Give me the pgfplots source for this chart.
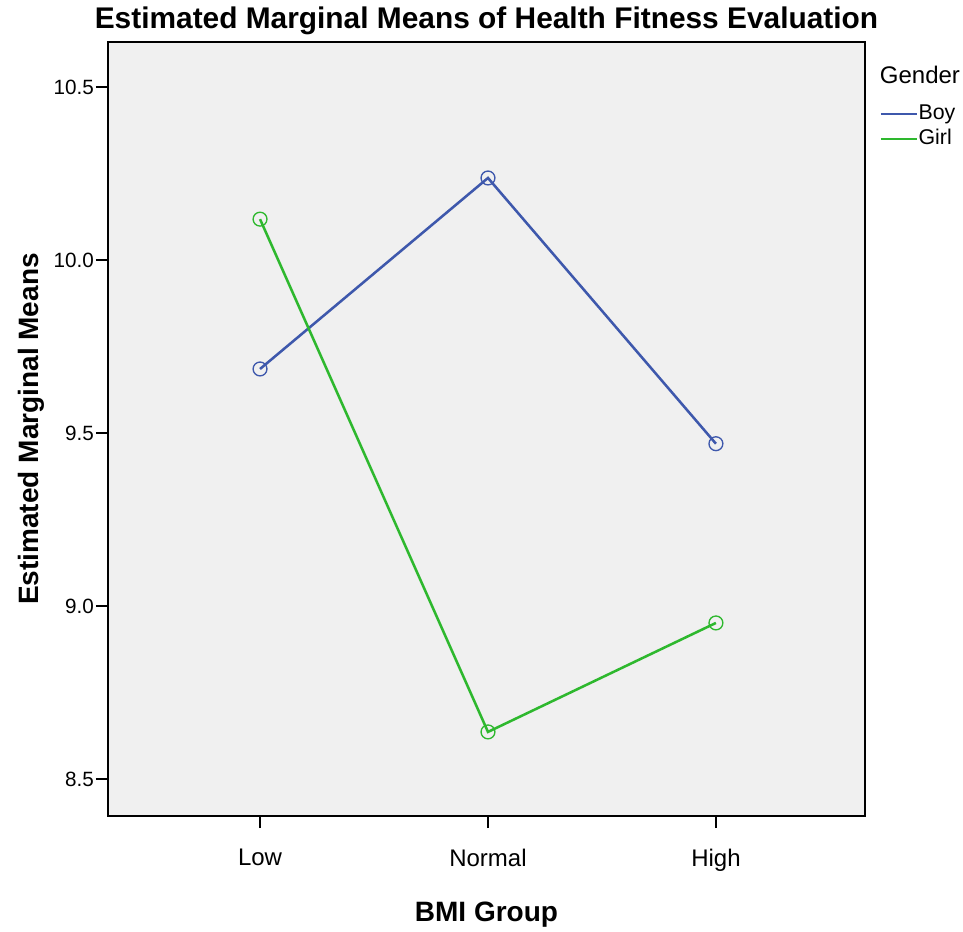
\documentclass[border=0pt]{standalone}
\usepackage{pgfplots}
\pgfplotsset{compat=1.18}
\usepackage{fontspec}
\setmainfont{Liberation Sans}
\definecolor{boy}{RGB}{62,88,172}
\definecolor{girl}{RGB}{46,184,46}
\definecolor{bg}{RGB}{240,240,240}
\begin{document}
\begin{tikzpicture}
\begin{axis}[
  name=ax,
  at={(0,0)}, anchor=south west,
  scale only axis,
  width=567.75pt, height=580.5pt,
  xmin=-0.667, xmax=2.654,
  ymin=8.393, ymax=10.630,
  xtick={0,1,2}, xticklabels={Low,Normal,High},
  ytick={8.5,9.0,9.5,10.0,10.5},
  /pgf/number format/assume math mode=true,
  tick align=outside,
  xtick pos=bottom, ytick pos=left,
  major tick length=9pt,
  tick style={black, line width=1pt},
  axis line style={black, line width=1pt},
  axis background/.style={fill=bg},
  yticklabel style={font=\fontsize{15.5}{18}\selectfont, xshift=2pt,
    /pgf/number format/fixed, /pgf/number format/fixed zerofill,
    /pgf/number format/precision=1},
  xticklabel style={font=\fontsize{18}{21}\selectfont, yshift=-12pt},
  title={\textbf{Estimated Marginal Means of Health Fitness Evaluation}},
  title style={font=\fontsize{22.4}{26}\selectfont, yshift=-4pt},
  xlabel={\textbf{BMI Group}},
  ylabel={\textbf{Estimated Marginal Means}},
  label style={font=\fontsize{21}{24}\selectfont},
  xlabel style={yshift=-16pt},
  ylabel style={yshift=0pt},
  legend style={at={(1.0,1.0)}, anchor=north west, draw=none, fill=none,
    font=\fontsize{16}{18}\selectfont, xshift=11pt, yshift=-45.5pt,
    row sep=3pt, inner sep=0pt,
    nodes={inner sep=0.5pt, text height=12pt, text depth=3pt}},
  legend cell align=left,
  legend image post style={line width=1.5pt},
  legend image code/.code={\draw[#1] (0pt,0pt) -- (27pt,0pt);},
  clip=false,
]
\addplot[boy, line width=1.9pt, mark=o, mark size=5.2pt, mark options={line width=1pt}]
  coordinates {(0,9.685) (1,10.237) (2,9.469)};
\addlegendentry{Boy}
\addplot[girl, line width=1.9pt, mark=o, mark size=5.2pt, mark options={line width=1pt}]
  coordinates {(0,10.118) (1,8.636) (2,8.951)};
\addlegendentry{Girl}
\end{axis}
\node[anchor=west, inner sep=0pt, font=\fontsize{18}{21}\selectfont] at ([xshift=11pt,yshift=-24.75pt]ax.north east) {Gender};
\path (ax.south west) ++(-81pt,-83.25pt) rectangle ++(722.25pt,695.25pt);
\end{tikzpicture}
\end{document}
